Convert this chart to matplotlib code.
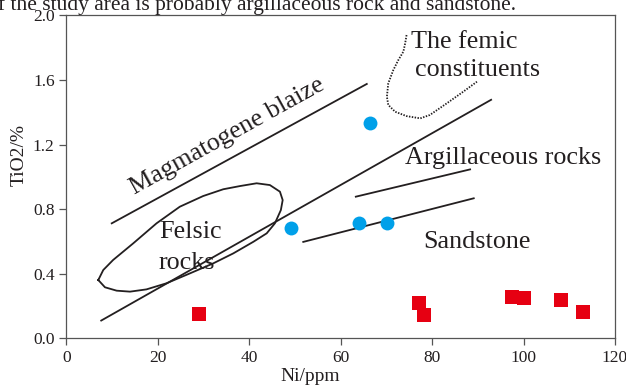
import matplotlib
matplotlib.use("Agg")
import matplotlib.pyplot as plt

# sample points
ni_blue = [66.4, 49.1, 64.0, 70.1]
ti_blue = [1.335, 0.683, 0.716, 0.716]
ni_red = [29.0, 77.2, 78.2, 97.5, 100.0, 108.1, 113.0]
ti_red = [0.152, 0.217, 0.144, 0.254, 0.248, 0.237, 0.165]

# boundary lines of the diagram
magma_x = [9.9, 65.7]
magma_y = [0.712, 1.575]
mid_x = [7.6, 92.9]
mid_y = [0.11, 1.477]
argil_x = [63.3, 88.3]
argil_y = [0.877, 1.046]
sand_x = [51.8, 89.1]
sand_y = [0.597, 0.867]

femic_x = [74.4, 74.1, 73.7, 72.6, 71.5, 70.4, 70.1, 70.4, 71.9, 74.4,
           77.4, 79.5, 83.2, 86.8, 89.8]
femic_y = [1.878, 1.827, 1.775, 1.723, 1.661, 1.579, 1.496, 1.445, 1.403,
           1.376, 1.362, 1.383, 1.455, 1.527, 1.589]

felsic_x = [6.96, 8.42, 10.98, 13.9, 17.5, 21.9, 27.0, 32.1, 36.5, 40.9,
            43.8, 45.6, 46.9, 47.3, 46.7, 44.5, 41.6, 38.0, 34.3, 29.9,
            24.8, 19.7, 14.6, 10.2, 8.05, 6.96]
felsic_y = [0.361, 0.316, 0.295, 0.289, 0.303, 0.341, 0.402, 0.464, 0.526,
            0.598, 0.650, 0.712, 0.794, 0.856, 0.908, 0.949, 0.960, 0.943,
            0.923, 0.881, 0.815, 0.712, 0.588, 0.485, 0.423, 0.361]

x_ticks = [0, 20, 40, 60, 80, 100, 120]
y_ticks = [0.0, 0.4, 0.8, 1.2, 1.6, 2.0]

plt.rcParams['font.family'] = ['Liberation Serif', 'DejaVu Serif']
ink = '#231f20'

fig = plt.figure(figsize=(6.26, 3.87), dpi=100)
ax = fig.add_axes([0.1062, 0.1258, 0.8762, 0.8346])

lw = 1.3
ax.plot(magma_x, magma_y, color=ink, lw=lw)
ax.plot(mid_x, mid_y, color=ink, lw=lw)
ax.plot(argil_x, argil_y, color=ink, lw=lw)
ax.plot(sand_x, sand_y, color=ink, lw=lw)
ax.plot(felsic_x, felsic_y, color=ink, lw=lw)
ax.plot(femic_x, femic_y, color=ink, lw=1.3, ls=(0, (0.8, 0.8)))

ax.scatter(ni_blue, ti_blue, s=100, marker='o', color='#00a0e9', zorder=3, linewidths=0)
ax.scatter(ni_red, ti_red, s=100, marker='s', color='#e60012', zorder=3, linewidths=0)

fs = 18.8
ax.text(75.3, 1.837, "The femic", fontsize=fs, color=ink, va='center', ha='left')
ax.text(76.3, 1.661, "constituents", fontsize=fs, color=ink, va='center', ha='left')
ax.text(95.5, 1.115, "Argillaceous rocks", fontsize=fs, color=ink, va='center', ha='center')
ax.text(89.8, 0.598, "Sandstone", fontsize=fs, color=ink, va='center', ha='center')
ax.text(20.2, 0.66, "Felsic", fontsize=fs, color=ink, va='center', ha='left')
ax.text(20.2, 0.464, "rocks", fontsize=fs, color=ink, va='center', ha='left')
ax.text(35.2, 1.253, "Magmatogene blaize", fontsize=fs, color=ink, va='center',
        ha='center', rotation=29, rotation_mode='anchor')

ax.set_xlim(0, 120)
ax.set_ylim(0, 2.0)
ax.set_xticks(x_ticks)
ax.set_yticks(y_ticks)
ax.set_xticklabels([str(v) for v in x_ticks])
ax.set_yticklabels([f"{v:.1f}" for v in y_ticks])
for s in ax.spines.values():
    s.set_color('#555555')
    s.set_linewidth(0.9)
ax.tick_params(direction='out', length=5, width=0.9, color='#555555',
               labelsize=12.5, labelcolor=ink)

ax.set_xlabel("Ni/ppm", fontsize=14, color=ink)
ax.set_ylabel("TiO2/%", fontsize=14, color=ink)
ax.xaxis.set_label_coords(0.444, -0.092)
ax.yaxis.set_label_coords(-0.07, 0.567)

fig.text(-0.02, 1 - 10 / 387, "of the study area is probably argillaceous rock and sandstone.",
         fontsize=15.5, color=ink, va='baseline', ha='left')

fig.savefig("out.png", dpi=100)
